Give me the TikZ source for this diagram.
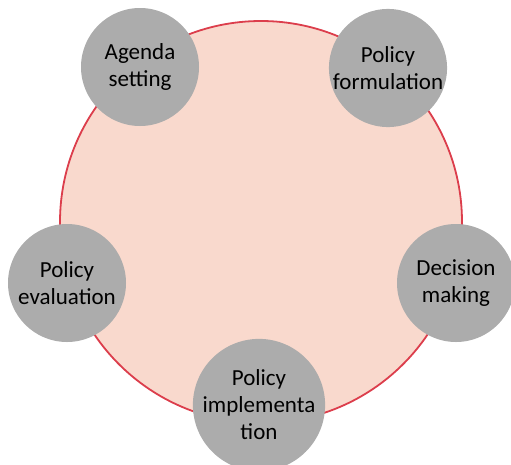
\documentclass[tikz,border=0pt]{standalone}
\usepackage{fontspec}
\setmainfont{Carlito}
\usepackage{tikz}

\definecolor{ringfill}{RGB}{249,217,205}
\definecolor{ringline}{RGB}{220,62,76}
\definecolor{stagegray}{RGB}{172,172,172}

\begin{document}
\begin{tikzpicture}[
    x=1pt, y=-1pt,
    stage/.style={circle, fill=stagegray, minimum size=118pt, inner sep=0pt, align=center,
                  font=\fontsize{23}{27}\selectfont},
    ring/.style={draw=ringline, fill=ringfill, line width=1.8pt}
]
\useasboundingbox (0,0) rectangle (511,464);

% the cycle itself
\node[ring, circle, minimum size=402pt, inner sep=0pt] (cycle) at (261,222) {};

% the five stages round it
\node[stage] (agenda) at (140,67) {Agenda\\setting};
\node[stage] (formulation) at (388,68) {Policy\\formulation};
\node[stage] (decision) at (456,283) {Decision\\making};
\node[stage] (implementation) at (259,405) {Policy\\implementa\\tion};
\node[stage] (evaluation) at (67,283) {Policy\\evaluation};
\end{tikzpicture}
\end{document}
